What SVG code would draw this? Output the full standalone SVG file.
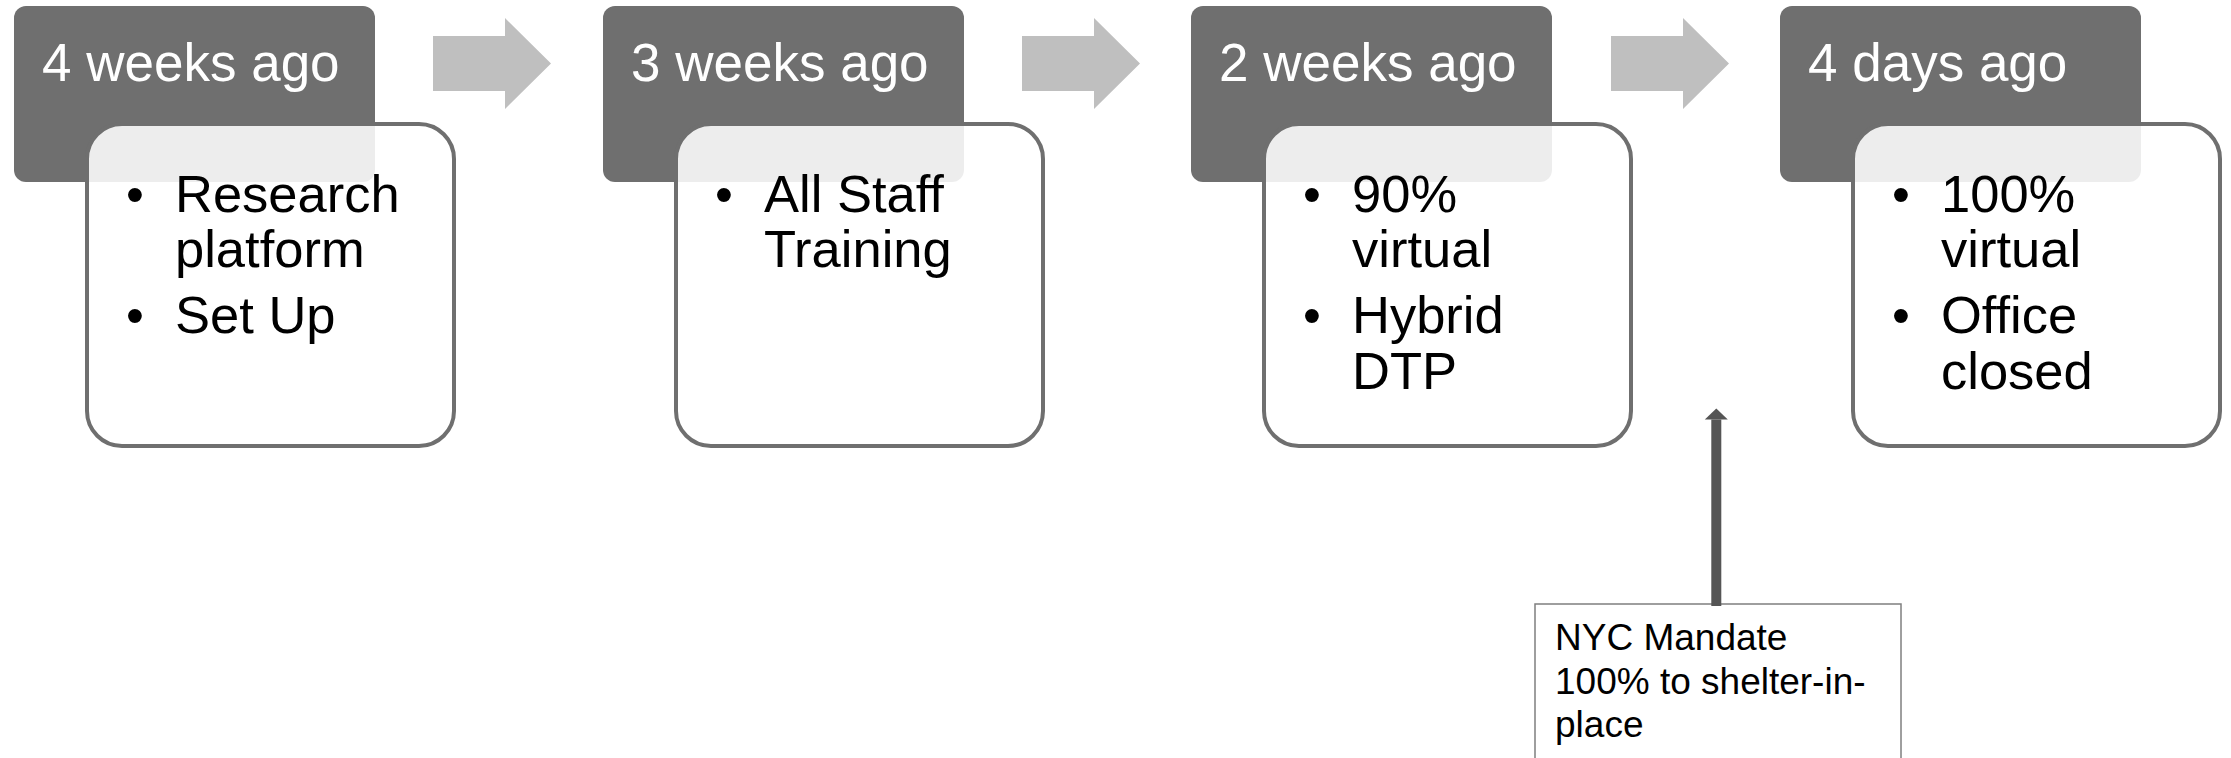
<svg xmlns="http://www.w3.org/2000/svg" width="2231" height="758" viewBox="0 0 2231 758">
<style>
.hdr{fill:#6f6f6f}
.card{fill:#ffffff;fill-opacity:0.88;stroke:#6f6f6f;stroke-width:4}
.ht{font-family:"Liberation Sans",Arial,sans-serif;font-size:53px;fill:#ffffff}
.bt{font-family:"Liberation Sans",Arial,sans-serif;font-size:52.5px;fill:#000000}
.bu{font-family:"Liberation Sans",Arial,sans-serif;font-size:51px;fill:#000000;text-anchor:middle}
.step{fill:#bfbfbf}
.note{fill:#ffffff;stroke:#7f7f7f;stroke-width:1.5}
.nt{font-family:"Liberation Sans",Arial,sans-serif;font-size:37px;fill:#000000}
</style>
<defs>
<marker id="ah" markerUnits="userSpaceOnUse" markerWidth="12" markerHeight="24" refX="0" refY="11.5" orient="auto" viewBox="0 0 12 23">
<path d="M0,0 L11,11.5 L0,23 Z" fill="#555555"/>
</marker>
</defs>
<rect width="2231" height="758" fill="#ffffff"/>

<g id="step-arrows">
<polygon class="step" points="433,36 505,36 505,18 551,63.5 505,109 505,91 433,91"/>
<polygon class="step" points="1022,36 1094,36 1094,18 1140,63.5 1094,109 1094,91 1022,91"/>
<polygon class="step" points="1611,36 1683,36 1683,18 1729,63.5 1683,109 1683,91 1611,91"/>
</g>

<g id="node-4weeks">
<rect class="hdr" x="14" y="6" width="361" height="176" rx="12"/>
<text class="ht" x="42" y="81">4 weeks ago</text>
<rect class="card" x="87" y="124" width="367" height="322" rx="35"/>
<text class="bu" x="135" y="211.7">•</text>
<text class="bt" x="175" y="211.7">Research</text>
<text class="bt" x="175" y="267">platform</text>
<text class="bu" x="135" y="333">•</text>
<text class="bt" x="175" y="333">Set Up</text>
</g>

<g id="node-3weeks">
<rect class="hdr" x="603" y="6" width="361" height="176" rx="12"/>
<text class="ht" x="631" y="81">3 weeks ago</text>
<rect class="card" x="676" y="124" width="367" height="322" rx="35"/>
<text class="bu" x="724" y="211.7">•</text>
<text class="bt" x="764" y="211.7">All Staff</text>
<text class="bt" x="764" y="267">Training</text>
</g>

<g id="node-2weeks">
<rect class="hdr" x="1191" y="6" width="361" height="176" rx="12"/>
<text class="ht" x="1219" y="81">2 weeks ago</text>
<rect class="card" x="1264" y="124" width="367" height="322" rx="35"/>
<text class="bu" x="1312" y="211.7">•</text>
<text class="bt" x="1352" y="211.7">90%</text>
<text class="bt" x="1352" y="267">virtual</text>
<text class="bu" x="1312" y="333">•</text>
<text class="bt" x="1352" y="333">Hybrid</text>
<text class="bt" x="1352" y="389">DTP</text>
</g>

<g id="node-4days">
<rect class="hdr" x="1780" y="6" width="361" height="176" rx="12"/>
<text class="ht" x="1808" y="81">4 days ago</text>
<rect class="card" x="1853" y="124" width="367" height="322" rx="35"/>
<text class="bu" x="1901" y="211.7">•</text>
<text class="bt" x="1941" y="211.7">100%</text>
<text class="bt" x="1941" y="267">virtual</text>
<text class="bu" x="1901" y="333">•</text>
<text class="bt" x="1941" y="333">Office</text>
<text class="bt" x="1941" y="389">closed</text>
</g>

<g id="node-nyc">
<rect class="note" x="1535" y="604" width="366" height="180"/>
<text class="nt" x="1555" y="650">NYC Mandate</text>
<text class="nt" x="1555" y="694">100% to shelter-in-</text>
<text class="nt" x="1555" y="737">place</text>
</g>

<g id="connectors">
<line x1="1716.3" y1="606" x2="1716.3" y2="419.5" stroke="#555555" stroke-width="10" marker-end="url(#ah)"/>
</g>
</svg>
